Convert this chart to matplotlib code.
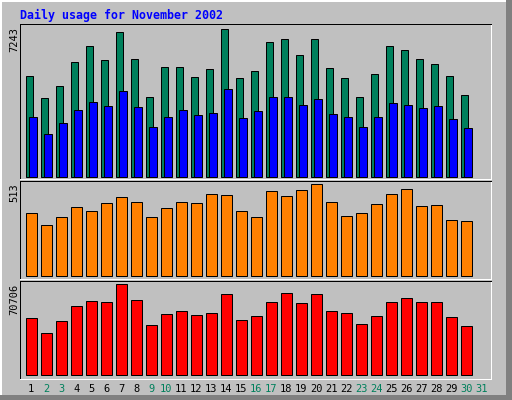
import matplotlib
matplotlib.use("Agg")
import matplotlib.pyplot as plt
from matplotlib.patches import Rectangle

# daily stats, November 2002 (30 days, axis shows 31 labels)
days = list(range(1, 31))
day_labels = [str(d) for d in range(1, 32)]
weekend_days = [2, 3, 9, 10, 16, 17, 23, 24, 30, 31]

hits = [4938, 3859, 4448, 5625, 6410, 5723, 7096, 5772, 3909, 5380,
        5380, 4889, 5282, 7243, 4840, 5183, 6606, 6753, 5968, 6753,
        5331, 4840, 3909, 5036, 6410, 6213, 5772, 5527, 4938, 4006]
files = [2928, 2094, 2633, 3271, 3663, 3467, 4203, 3418, 2437, 2928,
         3271, 3026, 3124, 4301, 2879, 3222, 3909, 3909, 3516, 3810,
         3075, 2928, 2437, 2928, 3614, 3516, 3369, 3467, 2830, 2388]
sites = [351, 284, 329, 385, 362, 407, 440, 413, 329, 379,
         413, 407, 457, 452, 362, 329, 474, 446, 480, 513,
         413, 335, 351, 401, 457, 485, 390, 396, 312, 307]
kbytes = [44287, 32634, 41956, 53611, 57496, 56719, 70706, 58273, 38849, 47396,
          49727, 46619, 48173, 62936, 42734, 45842, 56719, 63713, 55942, 62936,
          49727, 48173, 39626, 45842, 56719, 59828, 56719, 56719, 45065, 38072]

BG = "#C0C0C0"
GREEN = "#00805C"
BLUE = "#0000FF"
ORANGE = "#FF8000"
RED = "#FF0000"

W, H = 512, 400
fig = plt.figure(figsize=(W / 100, H / 100), dpi=100, facecolor=BG)

# background axes in pixel coords, for the outer bevel
bg = fig.add_axes([0, 0, 1, 1])
bg.set_xlim(0, W)
bg.set_ylim(H, 0)
bg.axis("off")
bg.add_patch(Rectangle((0, 0), W, 1.5, color="white", lw=0))
bg.add_patch(Rectangle((0, 0), 1.5, H, color="white", lw=0))
bg.add_patch(Rectangle((506, 0), 6, H, color="#808080", lw=0))
bg.add_patch(Rectangle((0, 395), W, 5, color="#808080", lw=0))

LW = 0.72  # one pixel


def panel(top, bottom, bar_bottom, max_top, vmax):
    left, right = 20, 491
    ax = fig.add_axes([left / W, 1 - bottom / H, (right - left) / W, (bottom - top) / H])
    ax.set_facecolor(BG)
    # x: one day = 15 px, day 1 centred at x=31.3
    ax.set_xlim(1 - 11.3 / 15, 1 + (right - 31.3) / 15)
    s = vmax / (bar_bottom - max_top)
    ax.set_ylim(-(bottom - bar_bottom) * s, vmax + (max_top - top) * s)
    for side in ["left", "top"]:
        ax.spines[side].set_color("black")
        ax.spines[side].set_linewidth(LW)
    for side in ["right", "bottom"]:
        ax.spines[side].set_color("white")
        ax.spines[side].set_linewidth(LW)
    ax.set_xticks([])
    ax.set_yticks([])
    # max value label, rotated, left of the panel
    fig.text(19.5 / W, 1 - (top + 3) / H, str(vmax), rotation=90, ha="right", va="top",
             fontsize=7.5, family="DejaVu Sans Mono", color="black")
    return ax


ax1 = panel(24, 179, 177, 29.3, max(hits))
ax1.bar([d - 0.11 for d in days], hits, width=0.48, color=GREEN, edgecolor="black", linewidth=LW)
ax1.bar([d + 0.11 for d in days], files, width=0.48, color=BLUE, edgecolor="black", linewidth=LW)

ax2 = panel(180.5, 279, 276.3, 184.3, max(sites))
ax2.bar(days, sites, width=0.71, color=ORANGE, edgecolor="black", linewidth=LW)

ax3 = panel(280.5, 378.5, 375.3, 284.3, max(kbytes))
ax3.bar(days, kbytes, width=0.71, color=RED, edgecolor="black", linewidth=LW)

# day labels under the last panel
ax3.set_xticks(range(1, 32))
ax3.set_xticklabels(day_labels, fontsize=7.5, family="DejaVu Sans Mono")
ax3.tick_params(axis="x", length=0, pad=4)
for lab, d in zip(ax3.get_xticklabels(), range(1, 32)):
    lab.set_color(GREEN if d in weekend_days else "black")

fig.text(20 / W, 1 - 19 / H, "Daily usage for November 2002", ha="left", va="baseline",
         fontsize=8.4, family="DejaVu Sans Mono", fontweight="bold", color=BLUE)

fig.savefig("out.png", dpi=100, facecolor=BG)
